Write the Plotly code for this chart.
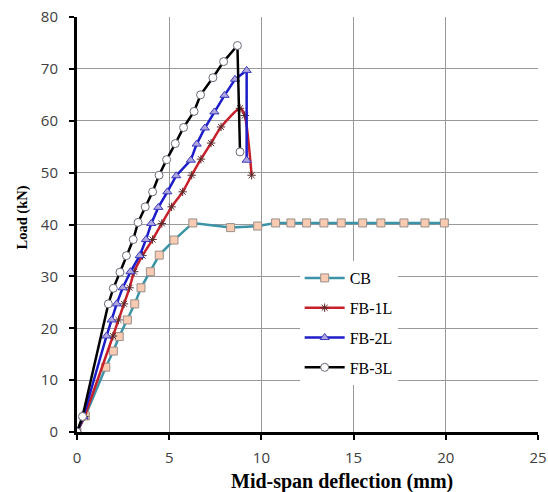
import plotly.graph_objects as go

# ---- data ----
cb_x = [0, 0.45, 1.56, 1.97, 2.29, 2.73, 3.13, 3.47, 3.98, 4.46, 5.26, 6.28, 8.33, 9.8,
        10.77, 11.6, 12.45, 13.39, 14.33, 15.49, 16.48, 17.73, 18.87, 19.92]
cb_y = [0, 3.1, 12.5, 15.6, 18.4, 21.6, 24.7, 27.8, 30.9, 34.1, 37.0, 40.3, 39.4, 39.7,
        40.3, 40.3, 40.3, 40.3, 40.3, 40.3, 40.3, 40.3, 40.3, 40.3]

fb1_x = [0, 0.4, 1.95, 2.25, 2.55, 2.85, 3.1, 3.55, 4.1, 4.6, 5.13, 5.73, 6.22, 6.72,
         7.27, 7.81, 8.84, 9.1, 9.47]
fb1_y = [0, 3.0, 18.5, 21.6, 24.7, 27.8, 30.9, 34.0, 37.1, 40.2, 43.4, 46.3, 49.5, 52.6,
         55.7, 58.8, 62.4, 61.0, 49.5]

fb2_x = [0, 0.35, 1.6, 1.88, 2.15, 2.48, 2.9, 3.4, 3.74, 4.03, 4.41, 4.90, 5.38, 6.17,
         6.49, 6.93, 7.45, 8.0, 8.57, 9.2, 9.2]
fb2_y = [0, 3.0, 18.5, 21.6, 24.7, 27.8, 30.9, 34.0, 37.1, 40.2, 43.3, 46.3, 49.4, 52.4,
         55.5, 58.6, 61.7, 64.9, 68.0, 69.7, 52.4]

fb3_x = [0, 0.3, 1.70, 1.97, 2.33, 2.68, 3.05, 3.31, 3.70, 4.10, 4.45, 4.86, 5.33, 5.78,
         6.35, 6.70, 7.37, 7.95, 8.70, 8.84]
fb3_y = [0, 3.0, 24.7, 27.7, 30.8, 34.0, 37.1, 40.4, 43.4, 46.3, 49.5, 52.5, 55.6, 58.7,
         61.8, 65.0, 68.3, 71.4, 74.5, 54.0]

x_ticks = [0, 5, 10, 15, 20, 25]
y_ticks = [0, 10, 20, 30, 40, 50, 60, 70, 80]

x_title = "Mid-span deflection (mm)"
y_title = "Load (kN)"

fig = go.Figure()

fig.add_trace(go.Scatter(
    x=cb_x, y=cb_y, name="CB", mode="lines+markers", legendgroup="a",
    line=dict(color="#3a93a6", width=2.5),
    marker=dict(symbol="square", size=8, color="#f8cbb2", line=dict(color="#9a8f8a", width=1))))
fig.add_trace(go.Scatter(
    x=fb1_x, y=fb1_y, name="FB-1L", mode="lines+markers", legendgroup="b",
    line=dict(color="#c8202a", width=2.5, shape="spline", smoothing=0.6),
    marker=dict(symbol="asterisk-open", size=7, color="#5a2a2a", line=dict(color="#5a2a2a", width=1))))
fig.add_trace(go.Scatter(
    x=fb2_x, y=fb2_y, name="FB-2L", mode="lines+markers", legendgroup="c",
    line=dict(color="#1c1cc8", width=2.5),
    marker=dict(symbol="triangle-up", size=8, color="#b0a6dc", line=dict(color="#3a3ac0", width=1))))
fig.add_trace(go.Scatter(
    x=fb3_x, y=fb3_y, name="FB-3L", mode="lines+markers", legendgroup="d",
    line=dict(color="#000000", width=2.5),
    marker=dict(symbol="circle", size=8, color="#ffffff", line=dict(color="#6a6a7a", width=1))))

tick_font = dict(family="Open Sans", size=15, color="#404040")

fig.update_layout(
    width=548, height=492,
    margin=dict(l=77, r=10, t=17, b=60, autoexpand=False),
    paper_bgcolor="white", plot_bgcolor="white",
    showlegend=True,
    legend=dict(x=0.483, y=0.412, xanchor="left", yanchor="top",
                bgcolor="white", borderwidth=0,
                font=dict(family="Liberation Serif", size=16, color="#000000"),
                tracegroupgap=6, itemwidth=40),
    xaxis=dict(range=[0, 25], tickvals=x_ticks, ticktext=[str(v) for v in x_ticks],
               automargin=False, ticklabeloverflow="allow", ticklabelstandoff=5,
               showgrid=True, gridcolor="#999999", gridwidth=1,
               showline=True, linecolor="black", linewidth=3, zeroline=False,
               ticks="outside", ticklen=5, tickwidth=2, tickcolor="black",
               tickfont=tick_font),
    yaxis=dict(range=[0, 80], tickvals=y_ticks, ticktext=[str(v) for v in y_ticks],
               automargin=False, ticklabeloverflow="allow", ticklabelstandoff=8,
               showgrid=True, gridcolor="#999999", gridwidth=1,
               showline=True, linecolor="black", linewidth=3, zeroline=False,
               ticks="outside", ticklen=5, tickwidth=2, tickcolor="black",
               tickfont=tick_font),
    annotations=[
        dict(text="<b>" + x_title + "</b>", xref="paper", yref="paper",
             x=0.575, y=0, xanchor="center", yanchor="middle", yshift=-49,
             showarrow=False,
             font=dict(family="Liberation Serif", size=20, color="#000000")),
        dict(text="<b>" + y_title + "</b>", xref="paper", yref="paper",
             x=0, y=0.5, xanchor="center", yanchor="middle", xshift=-55, yshift=7,
             textangle=-90, showarrow=False,
             font=dict(family="Liberation Serif", size=14.5, color="#000000")),
    ],
)

fig.write_html("out.html", config={"displayModeBar": False},
               post_script="document.body.style.margin='0';")
